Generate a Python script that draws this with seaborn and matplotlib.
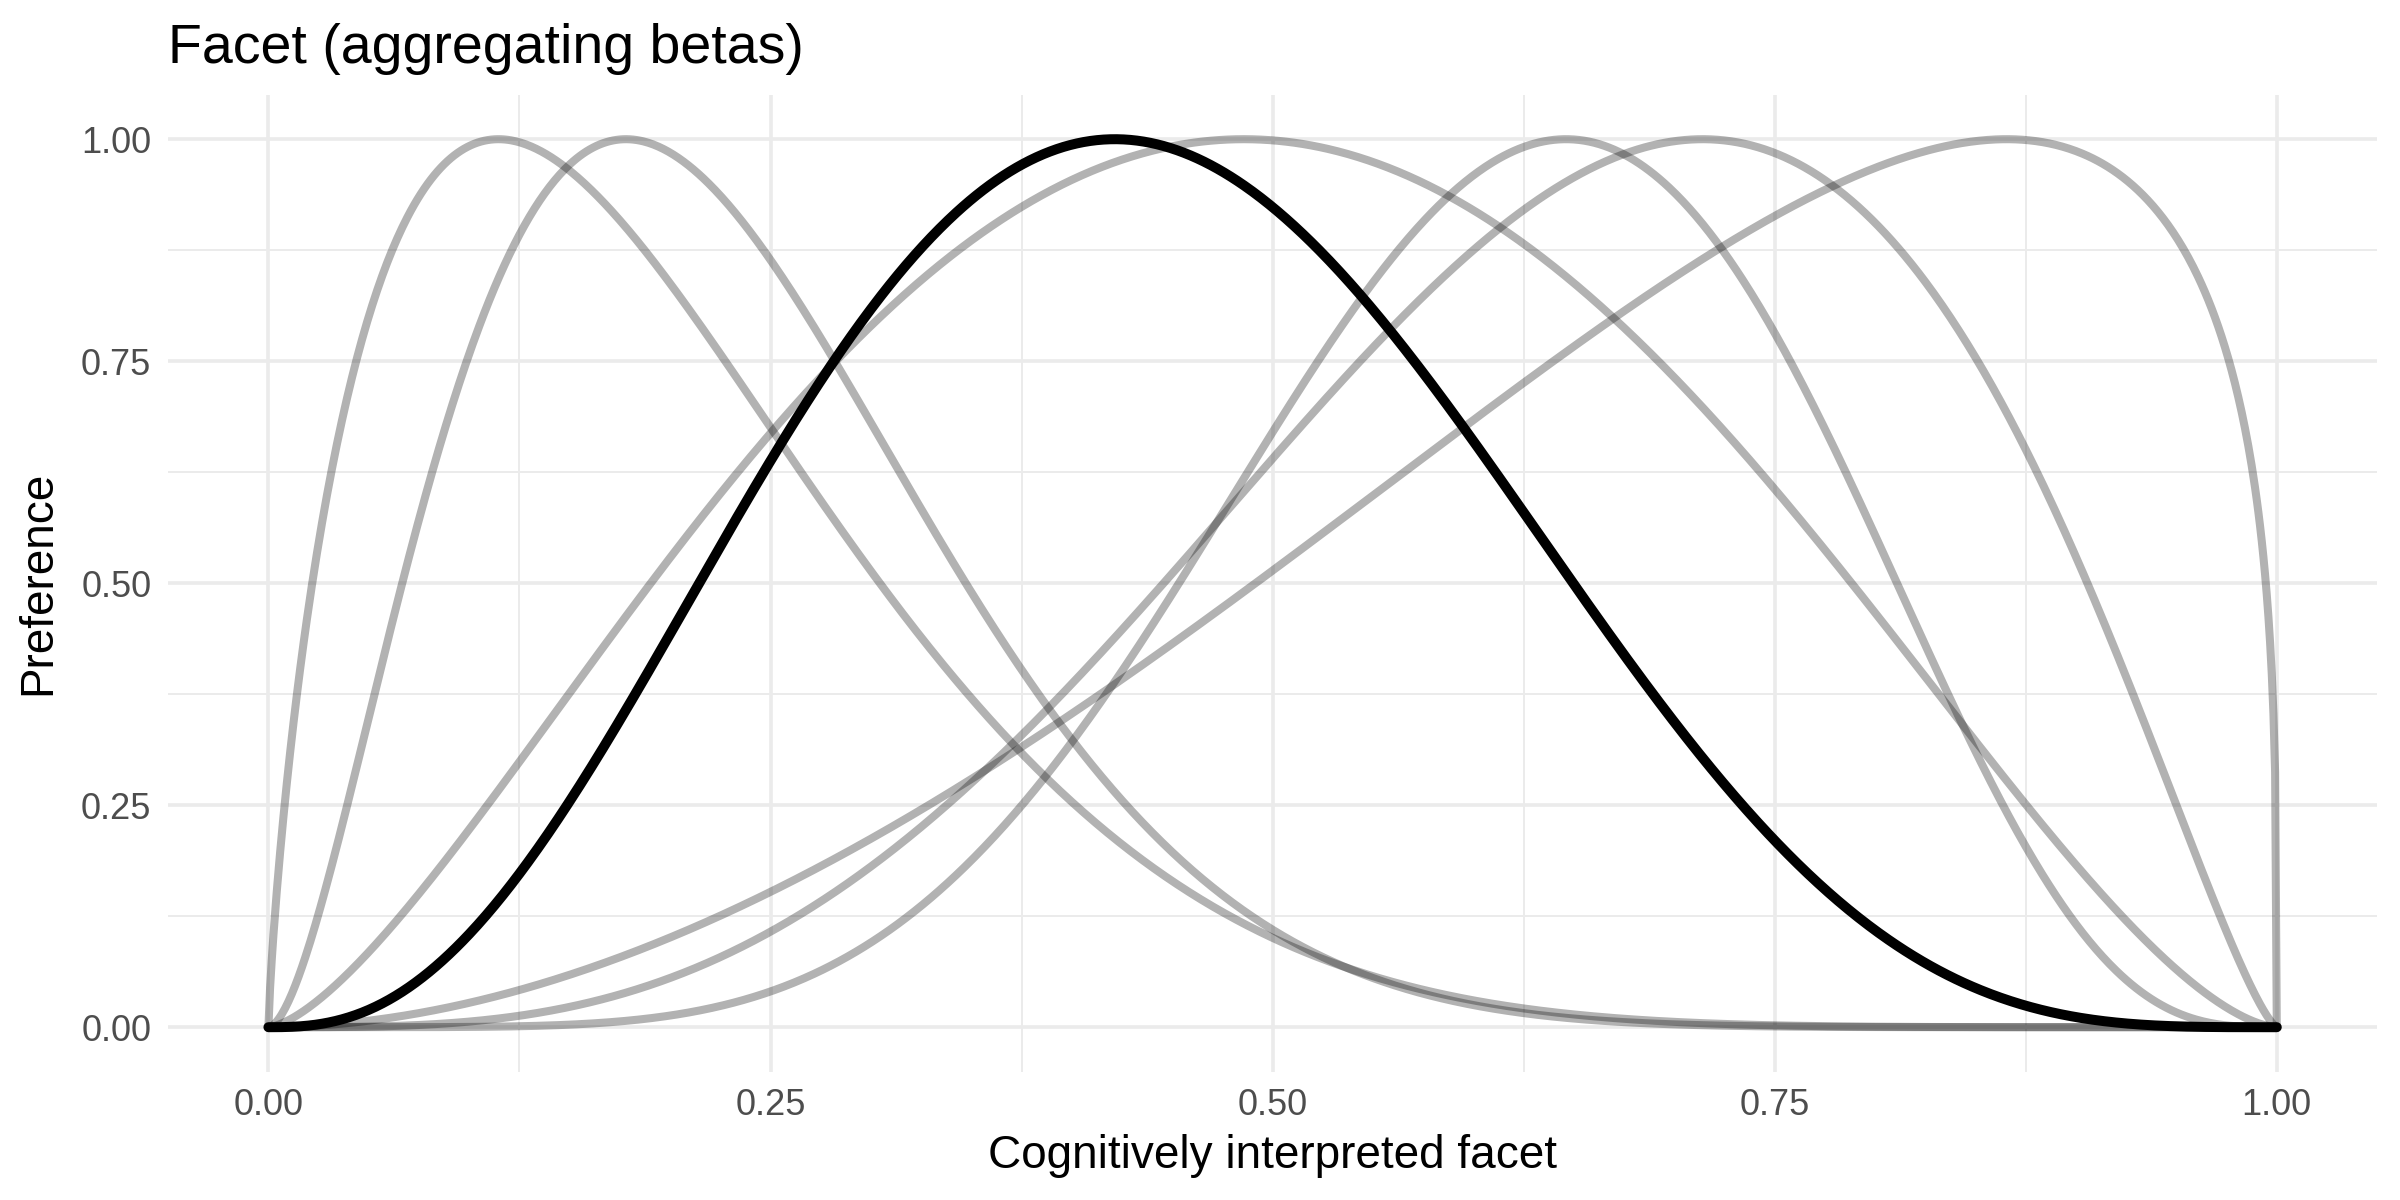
import numpy as np
import pandas as pd
import seaborn as sns
import matplotlib.pyplot as plt

# beta shape parameters (each curve is scaled to peak at 1)
grey_a = [1.78, 2.75, 2.52, 6.97, 4.36, 2.93]
grey_b = [7.03, 9.08, 2.61, 4.27, 2.345, 1.30]
agg_a = 3.71
agg_b = 4.72

x_ticks = [0.0, 0.25, 0.5, 0.75, 1.0]
y_ticks = [0.0, 0.25, 0.5, 0.75, 1.0]

xs = np.linspace(0, 1, 1201)


def scaled_beta(a, b):
    y = xs ** (a - 1) * (1 - xs) ** (b - 1)
    return y / y.max()


frames = []
for i, (a, b) in enumerate(zip(grey_a, grey_b)):
    frames.append(pd.DataFrame({"x": xs, "y": scaled_beta(a, b), "curve": f"c{i}"}))
grey_df = pd.concat(frames)
agg_df = pd.DataFrame({"x": xs, "y": scaled_beta(agg_a, agg_b)})

sns.set_theme(style="white")
plt.rcParams["font.family"] = ["Liberation Sans", "DejaVu Sans"]

fig = plt.figure(figsize=(12, 6), dpi=200)
ax = fig.add_axes([0.07, 0.107, 0.9205, 0.814])

for name, sub in grey_df.groupby("curve"):
    sns.lineplot(data=sub, x="x", y="y", ax=ax, color="black", alpha=0.3,
                 linewidth=2.9, estimator=None, sort=False, legend=False)
sns.lineplot(data=agg_df, x="x", y="y", ax=ax, color="black", linewidth=3.6,
             estimator=None, sort=False, legend=False)

ax.set_xlim(-0.05, 1.05)
ax.set_ylim(-0.05, 1.05)
ax.set_xticks(x_ticks)
ax.set_yticks(y_ticks)
ax.set_xticklabels([f"{v:.2f}" for v in x_ticks])
ax.set_yticklabels([f"{v:.2f}" for v in y_ticks])
ax.set_xticks([0.125, 0.375, 0.625, 0.875], minor=True)
ax.set_yticks([0.125, 0.375, 0.625, 0.875], minor=True)
ax.grid(which="major", color="#EBEBEB", linewidth=1.3)
ax.grid(which="minor", color="#EBEBEB", linewidth=0.7)
ax.set_axisbelow(True)
for s in ax.spines.values():
    s.set_visible(False)
ax.tick_params(which="both", length=0, labelsize=13, labelcolor="#4D4D4D", pad=6)

ax.set_xlabel("Cognitively interpreted facet", fontsize=16.5, color="black", labelpad=4)
ax.set_ylabel("Preference", fontsize=16.5, color="black", labelpad=7.5)
ax.set_title("Facet (aggregating betas)", loc="left", fontsize=20, color="black", pad=11.5)

fig.savefig("out.png", dpi=200, facecolor="white")
